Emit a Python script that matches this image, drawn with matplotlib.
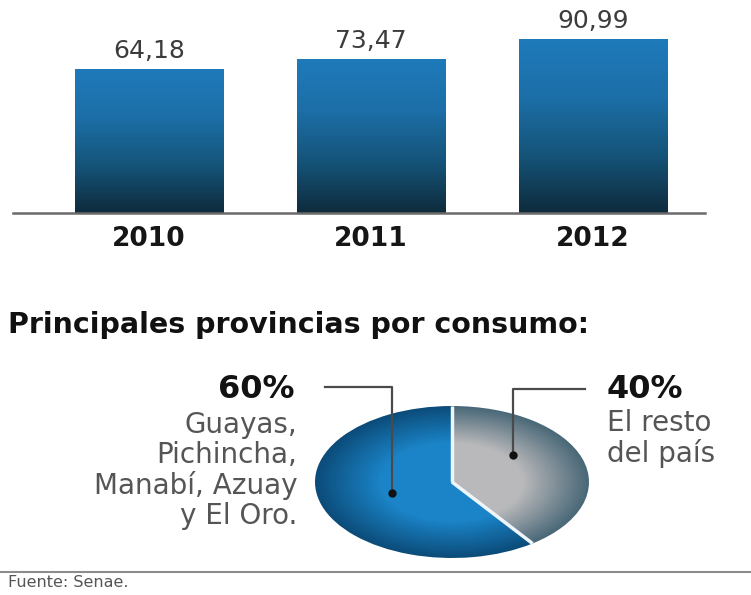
import numpy as np
import matplotlib
matplotlib.use("Agg")
import matplotlib.pyplot as plt
from matplotlib.colors import LinearSegmentedColormap, to_rgb

# importaciones por año (millones)
years = ["2010", "2011", "2012"]
imports = [64.18, 73.47, 90.99]

# reparto del consumo por provincias
shares = [40, 60]
share_pcts = ["40%", "60%"]
share_groups = [["El resto", "del país"],
                ["Guayas,", "Pichincha,", "Manabí, Azuay", "y El Oro."]]

W, H = 751, 595
fig = plt.figure(figsize=(W / 100, H / 100), dpi=100)
fig.patch.set_facecolor("white")


def fx(px):
    return px / W


def fy(py):
    return 1 - py / H


# --- barras ---
floor = -64.5
ax = fig.add_axes([fx(13), fy(213), fx(692), 213 / H])
x = np.arange(len(years))
bars = ax.bar(x, [v - floor for v in imports], bottom=floor, width=0.667,
              color="none", linewidth=0)

grad = np.linspace(0, 1, 256).reshape(-1, 1)
bar_cmap = LinearSegmentedColormap.from_list(
    "barra", ["#0e2b3c", "#155479", "#1c6fa8", "#1f7aba"])
for b in bars:
    x0, y0 = b.get_xy()
    im = ax.imshow(grad, extent=[x0, x0 + b.get_width(), y0, y0 + b.get_height()],
                   origin="lower", cmap=bar_cmap, aspect="auto", zorder=2)
    im.set_clip_path(b)

ax.set_xlim(-0.613, 2.505)
ax.set_ylim(floor, floor + 213 / 1.119)
ax.axhline(floor, color="#6a6a6a", lw=1.8, zorder=3, clip_on=False)
for s in ax.spines.values():
    s.set_visible(False)
ax.set_yticks([])
ax.set_xticks(x, years)
ax.tick_params(axis="x", length=0, pad=9, labelsize=19)
for t in ax.get_xticklabels():
    t.set_fontweight("bold")
    t.set_color("#161616")

ax.bar_label(bars, labels=[f"{v:.2f}".replace(".", ",") for v in imports],
             padding=4, fontsize=18, color="#3c3c3c")

# --- titulo ---
fig.text(fx(8), fy(333), "Principales provincias por consumo:",
         fontsize=20.5, fontweight="heavy", color="#111111",
         ha="left", va="baseline")

# --- pastel ---
pax = fig.add_axes([fx(315), fy(558), fx(274), 152 / H])
edge = [to_rgb("#4a6878"), to_rgb("#0b4c7a")]
center = [to_rgb("#b9b9bb"), to_rgb("#1b84c8")]
n = 30
for i in range(n):
    t = i / (n - 1)
    r = 1 - 0.62 * t
    cols = [tuple(e + (c - e) * min(1, t * 1.3) for e, c in zip(edge[k], center[k]))
            for k in range(2)]
    pax.pie(shares, radius=r, startangle=90, counterclock=False, colors=cols,
            wedgeprops=dict(linewidth=0))

# separadores blancos entre porciones
bounds = 90 - 360 * np.cumsum([0] + shares[:-1]) / sum(shares)
for a in np.deg2rad(bounds):
    pax.plot([0, np.cos(a)], [0, np.sin(a)], color="#eef6fb", lw=2.5,
             solid_capstyle="butt", zorder=4)

# elipse: el pastel se estira con el eje
pax.set_aspect("auto")
pax.set_xlim(-1, 1)
pax.set_ylim(-1, 1)

# lineas guia (coordenadas del pastel)
leaders = [
    ([0.971, 0.445, 0.445], [1.224, 1.224, 0.355]),
    ([-0.927, -0.438, -0.438], [1.25, 1.25, -0.145]),
]
for lx, ly in leaders:
    pax.plot(lx, ly, color="#4a4a4a", lw=1.6, clip_on=False, zorder=5)
    pax.plot(lx[-1], ly[-1], "o", color="#111111", ms=5, clip_on=False, zorder=6)

# etiquetas
fig.text(fx(607), fy(398), share_pcts[0], fontsize=23, fontweight="bold",
         color="#121212", ha="left", va="baseline")
for j, line in enumerate(share_groups[0]):
    fig.text(fx(607), fy(431 + 31 * j), line, fontsize=20, color="#555555",
             ha="left", va="baseline")

fig.text(fx(295), fy(398), share_pcts[1], fontsize=23, fontweight="bold",
         color="#121212", ha="right", va="baseline")
for j, line in enumerate(share_groups[1]):
    fig.text(fx(297), fy(433 + 30.5 * j), line, fontsize=20, color="#555555",
             ha="right", va="baseline")

# --- fuente ---
fig.add_artist(plt.Line2D([0, 1], [fy(572), fy(572)], color="#8c8c8c", lw=1.5,
                          transform=fig.transFigure))
fig.text(fx(8), fy(587), "Fuente: Senae.", fontsize=11.5, color="#555555",
         ha="left", va="baseline")

fig.savefig("out.png", dpi=100)
